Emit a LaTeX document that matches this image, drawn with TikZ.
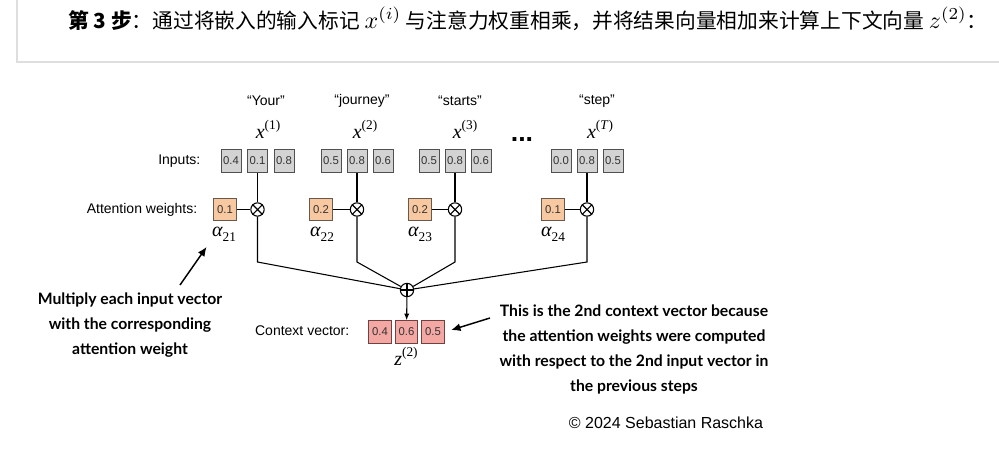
\documentclass[tikz,border=0pt]{standalone}
\usepackage{fontspec}
\setmainfont{Liberation Sans}
\newfontfamily\cjkfont{Noto Sans CJK SC}
\newfontfamily\notefont{Lato}
\newfontfamily\seriffont{Liberation Serif}
\usetikzlibrary{arrows.meta, positioning, calc}

\definecolor{frameline}{HTML}{DEDEDE}
\definecolor{inputfill}{HTML}{D3D3D3}
\definecolor{weightfill}{HTML}{F8C8A0}
\definecolor{ctxfill}{HTML}{F4A8A4}
\definecolor{boxline}{HTML}{505050}

% italic serif symbol with superscript / subscript
\newcommand{\vecsym}[2]{{\seriffont\itshape #1}\raisebox{0.85ex}{\seriffont\fontsize{10}{10}\selectfont #2}}
\newcommand{\wsym}[2]{{\seriffont\itshape #1}\raisebox{-0.45ex}{\seriffont\fontsize{10}{10}\selectfont #2}}
\newcommand{\headmath}[1]{\mbox{\fontsize{10}{12}\selectfont\scalebox{1.8}{$#1$}}}

\begin{document}
\begin{tikzpicture}[
    x=0.75pt, y=-0.75pt,
    font=\fontsize{10.5}{12}\selectfont,
    inbox/.style={rectangle, draw=boxline, fill=inputfill, line width=0.7pt, minimum width=15pt, minimum height=17.5pt, inner sep=0pt, font=\fontsize{8.5}{9}\selectfont, text=black!80},
    wbox/.style={rectangle, draw=boxline!80!brown, fill=weightfill, line width=0.7pt, minimum width=17pt, minimum height=17pt, inner sep=0pt, font=\fontsize{8.5}{9}\selectfont, text=black!80},
    ctxbox/.style={rectangle, draw=boxline!80!red, fill=ctxfill, line width=0.7pt, minimum width=17pt, minimum height=17pt, inner sep=0pt, font=\fontsize{8.5}{9}\selectfont, text=black!80},
    op/.style={circle, draw=black, fill=white, line width=0.8pt, minimum size=10pt, inner sep=0pt},
    word/.style={font=\fontsize{10.5}{12}\selectfont},
    sym/.style={font=\fontsize{15}{16}\selectfont},
    note/.style={align=center, font=\notefont\bfseries\fontsize{11.8}{18.75}\selectfont},
    wire/.style={line width=0.8pt, draw=black},
    arrow/.style={-{Latex[length=7pt, width=6pt]}, line width=1.1pt, draw=black}
  ]
    \useasboundingbox (0,0) rectangle (999,454);

    % header
    \draw[frameline, line width=1.1pt] (17,0) -- (17,62) -- (999,62);
    \node[anchor=base west, inner sep=0pt, font=\cjkfont\fontsize{15.55}{18}\selectfont] (head) at (68,28.5)
      {\textbf{第 3 步}：通过将嵌入的输入标记 \headmath{x^{(i)}} 与注意力权重相乘，并将结果向量相加来计算上下文向量 \headmath{z^{(2)}}：};

    % tokens
    \node[word] (w1) at (266,101) {“Your”};
    \node[word] (w2) at (362,101) {“journey”};
    \node[word] (w3) at (460,101) {“starts”};
    \node[word] (w4) at (597,101) {“step”};

    \node[sym] (x1) at (268,129) {\vecsym{x}{(1)}};
    \node[sym] (x2) at (365,129) {\vecsym{x}{(2)}};
    \node[sym] (x3) at (465,129) {\vecsym{x}{(3)}};
    \node[sym] (xT) at (600,129) {\vecsym{x}{(\textit{T})}};
    \node[font=\bfseries\fontsize{20}{20}\selectfont] (dots) at (522,140) {...};

    % inputs
    \node[anchor=east] (lin) at (205,161) {Inputs:};
    \node[inbox] (in1a) at (231,161) {0.4};
    \node[inbox] (in1b) at (257.5,161) {0.1};
    \node[inbox] (in1c) at (284,161) {0.8};
    \node[inbox] (in2a) at (331,161) {0.5};
    \node[inbox] (in2b) at (357,161) {0.8};
    \node[inbox] (in2c) at (383,161) {0.6};
    \node[inbox] (in3a) at (429,161) {0.5};
    \node[inbox] (in3b) at (455,161) {0.8};
    \node[inbox] (in3c) at (481,161) {0.6};
    \node[inbox] (in4a) at (561,161) {0.0};
    \node[inbox] (in4b) at (587,161) {0.8};
    \node[inbox] (in4c) at (613,161) {0.5};

    % attention weights
    \node[anchor=east] (lw) at (202,209.5) {Attention weights:};
    \node[wbox] (wt1) at (225,209.5) {0.1};
    \node[wbox] (wt2) at (321,209.5) {0.2};
    \node[wbox] (wt3) at (420,209.5) {0.2};
    \node[wbox] (wt4) at (553,209.5) {0.1};

    \node[op] (m1) at (257.5,209.5) {};
    \node[op] (m2) at (357,209.5) {};
    \node[op] (m3) at (455,209.5) {};
    \node[op] (m4) at (587,209.5) {};

    \node[sym] (a21) at (224,234) {\wsym{α}{21}};
    \node[sym] (a22) at (322,234) {\wsym{α}{22}};
    \node[sym] (a23) at (420,234) {\wsym{α}{23}};
    \node[sym] (a24) at (553,234) {\wsym{α}{24}};

    % sum and context vector
    \node[op] (plus) at (407,290) {};
    \node[anchor=east] (lctx) at (354,331) {Context vector:};
    \node[ctxbox] (ctx1) at (380,332) {0.4};
    \node[ctxbox] (ctx2) at (406.5,332) {0.6};
    \node[ctxbox] (ctx3) at (433,332) {0.5};
    \node[sym] (z2) at (406,356) {\vecsym{z}{(2)}};

    % notes
    \node[note] (lnote) at (130,325) {Multiply each input vector\\with the corresponding\\attention weight};
    \node[note] (rnote) at (634,349) {This is the 2nd context vector because\\the attention weights were computed\\with respect to the 2nd input vector in\\the previous steps};
    \node[font=\fontsize{12}{14}\selectfont] (copy) at (666,423) {© 2024 Sebastian Raschka};

    \coordinate (ltail) at (180,285);
    \coordinate (rtail) at (490,318);

    % wires
    \draw[wire] (in1b) -- (m1);
    \draw[wire] (in2b) -- (m2);
    \draw[wire] (in3b) -- (m3);
    \draw[wire] (in4b) -- (m4);
    \draw[wire] (wt1) -- (m1);
    \draw[wire] (wt2) -- (m2);
    \draw[wire] (wt3) -- (m3);
    \draw[wire] (wt4) -- (m4);

    \draw[wire] (m1) -- (m1 |- 0,262) -- (plus);
    \draw[wire] (m2) -- (m2 |- 0,262) -- (plus);
    \draw[wire] (m3) -- (m3 |- 0,262) -- (plus);
    \draw[wire] (m4) -- (m4 |- 0,262) -- (plus);

    \draw[wire] (plus.north) -- (plus.south);
    \draw[wire] (plus.west) -- (plus.east);
    \draw[wire] (m1.north west) -- (m1.south east) (m1.north east) -- (m1.south west);
    \draw[wire] (m2.north west) -- (m2.south east) (m2.north east) -- (m2.south west);
    \draw[wire] (m3.north west) -- (m3.south east) (m3.north east) -- (m3.south west);
    \draw[wire] (m4.north west) -- (m4.south east) (m4.north east) -- (m4.south west);

    \draw[-{Latex[length=5pt, width=4pt]}, line width=0.8pt] (plus) -- (ctx2);

    % note arrows
    \draw[arrow, shorten >=1pt] (ltail) -- (a21.south west);
    \draw[arrow, shorten >=5pt] (rtail) -- (ctx3.east);

  \end{tikzpicture}
\end{document}
